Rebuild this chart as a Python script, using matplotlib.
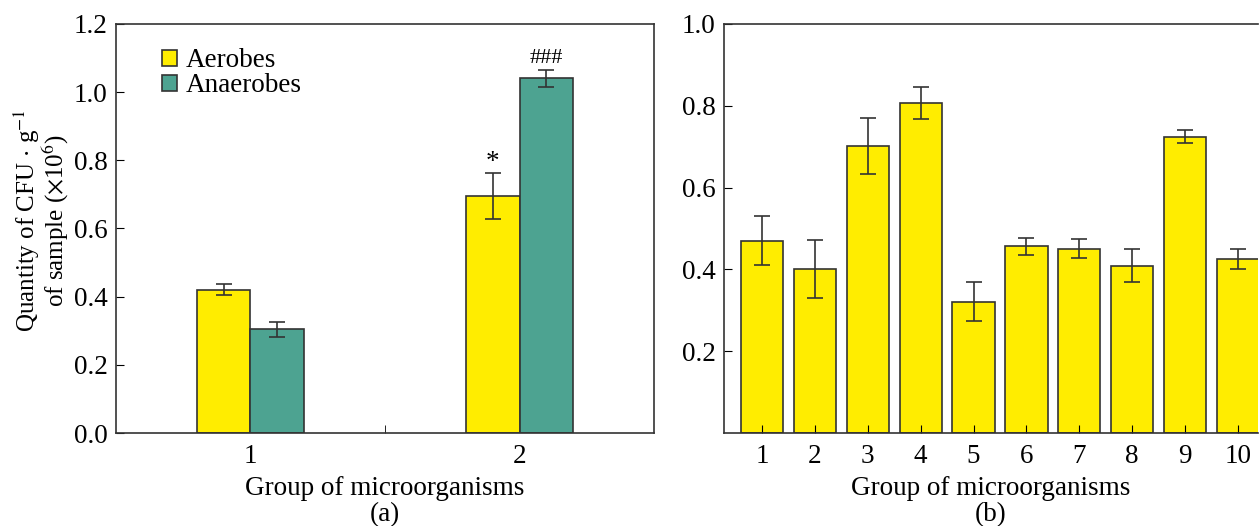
import matplotlib.pyplot as plt
import numpy as np

plt.rcParams['font.family'] = ['Liberation Serif', 'DejaVu Serif']
plt.rcParams['mathtext.fontset'] = 'stix'

# panel (a)
groups_a = [1, 2]
aerobes = [0.42, 0.695]
aerobes_err = [0.016, 0.067]
anaerobes = [0.305, 1.041]
anaerobes_err = [0.022, 0.025]

# panel (b)
groups_b = [1, 2, 3, 4, 5, 6, 7, 8, 9, 10]
values_b = [0.470, 0.401, 0.701, 0.807, 0.321, 0.456, 0.451, 0.409, 0.724, 0.425]
err_b = [0.060, 0.071, 0.068, 0.040, 0.048, 0.020, 0.024, 0.041, 0.016, 0.025]

YELLOW = '#FFED00'
TEAL = '#4DA391'
EDGE = '#333333'
FS = 19.5


def main():
    fig = plt.figure(figsize=(12.59, 5.26), dpi=100)
    ax1 = fig.add_axes([0.0921, 0.1768, 0.4274, 0.7776])
    ax2 = fig.add_axes([0.5751, 0.1768, 0.4241, 0.7776])

    w = 0.2
    x = np.array(groups_a)
    ekw = dict(ecolor=EDGE, elinewidth=1.2, capsize=6, capthick=1.2)
    ax1.bar(x - w / 2, aerobes, w, yerr=aerobes_err, color=YELLOW,
            edgecolor=EDGE, linewidth=1.2, label='Aerobes', error_kw=ekw)
    ax1.bar(x + w / 2, anaerobes, w, yerr=anaerobes_err, color=TEAL,
            edgecolor=EDGE, linewidth=1.2, label='Anaerobes', error_kw=ekw)
    ax1.text(x[1] - w / 2, aerobes[1] + aerobes_err[1] - 0.005, '*',
             ha='center', va='bottom', fontsize=FS)
    ax1.text(x[1] + w / 2, anaerobes[1] + anaerobes_err[1] + 0.006, '###',
             ha='center', va='bottom', fontsize=16)
    ax1.set_xlim(0.5, 2.5)
    ax1.set_ylim(0, 1.2)
    ax1.set_yticks(np.arange(0, 1.21, 0.2))
    ax1.set_yticklabels([f'{v:.1f}' for v in np.arange(0, 1.21, 0.2)])
    ax1.set_xticks(groups_a)
    ax1.set_xticklabels(['1', '2'])
    ax1.set_xticks([1.5], minor=True)
    ax1.tick_params(axis='x', which='major', length=0, pad=8, labelsize=FS)
    ax1.tick_params(axis='x', which='minor', direction='in', length=6)
    ax1.tick_params(axis='y', direction='in', length=6, labelsize=FS, pad=6)
    ax1.set_xlabel('Group of microorganisms\n(a)', fontsize=FS, labelpad=5,
                   linespacing=1.08)
    ax1.set_ylabel('Quantity of CFU $\\cdot$ g$^{-1}$\nof sample ($\\times$10$^{6}$)',
                   fontsize=18, linespacing=0.95)
    ax1.yaxis.set_label_coords(-0.083, 0.52)
    ax1.legend(loc='upper left', bbox_to_anchor=(0.055, 0.98), frameon=False,
               fontsize=FS, handlelength=0.55, handleheight=0.55,
               handletextpad=0.35, labelspacing=0.0, borderaxespad=0.2)

    ax2.bar(groups_b, values_b, 0.8, yerr=err_b, color=YELLOW,
            edgecolor=EDGE, linewidth=1.2, error_kw=ekw)
    ax2.set_xlim(0.28, 10.38)
    ax2.set_ylim(0, 1.0)
    ax2.set_yticks([0.2, 0.4, 0.6, 0.8, 1.0])
    ax2.set_yticklabels(['0.2', '0.4', '0.6', '0.8', '1.0'])
    ax2.set_xticks(groups_b)
    ax2.set_xticklabels([str(g) for g in groups_b])
    ax2.tick_params(axis='x', direction='in', length=6, pad=8, labelsize=FS)
    ax2.tick_params(axis='y', direction='in', length=6, labelsize=FS, pad=6)
    ax2.spines['right'].set_visible(False)
    ax2.set_xlabel('Group of microorganisms\n(b)', fontsize=FS, labelpad=5,
                   linespacing=1.08)

    for ax in (ax1, ax2):
        for s in ax.spines.values():
            s.set_linewidth(1.2)
            s.set_color(EDGE)

    fig.savefig('out.png', dpi=100)


if __name__ == '__main__':
    main()
